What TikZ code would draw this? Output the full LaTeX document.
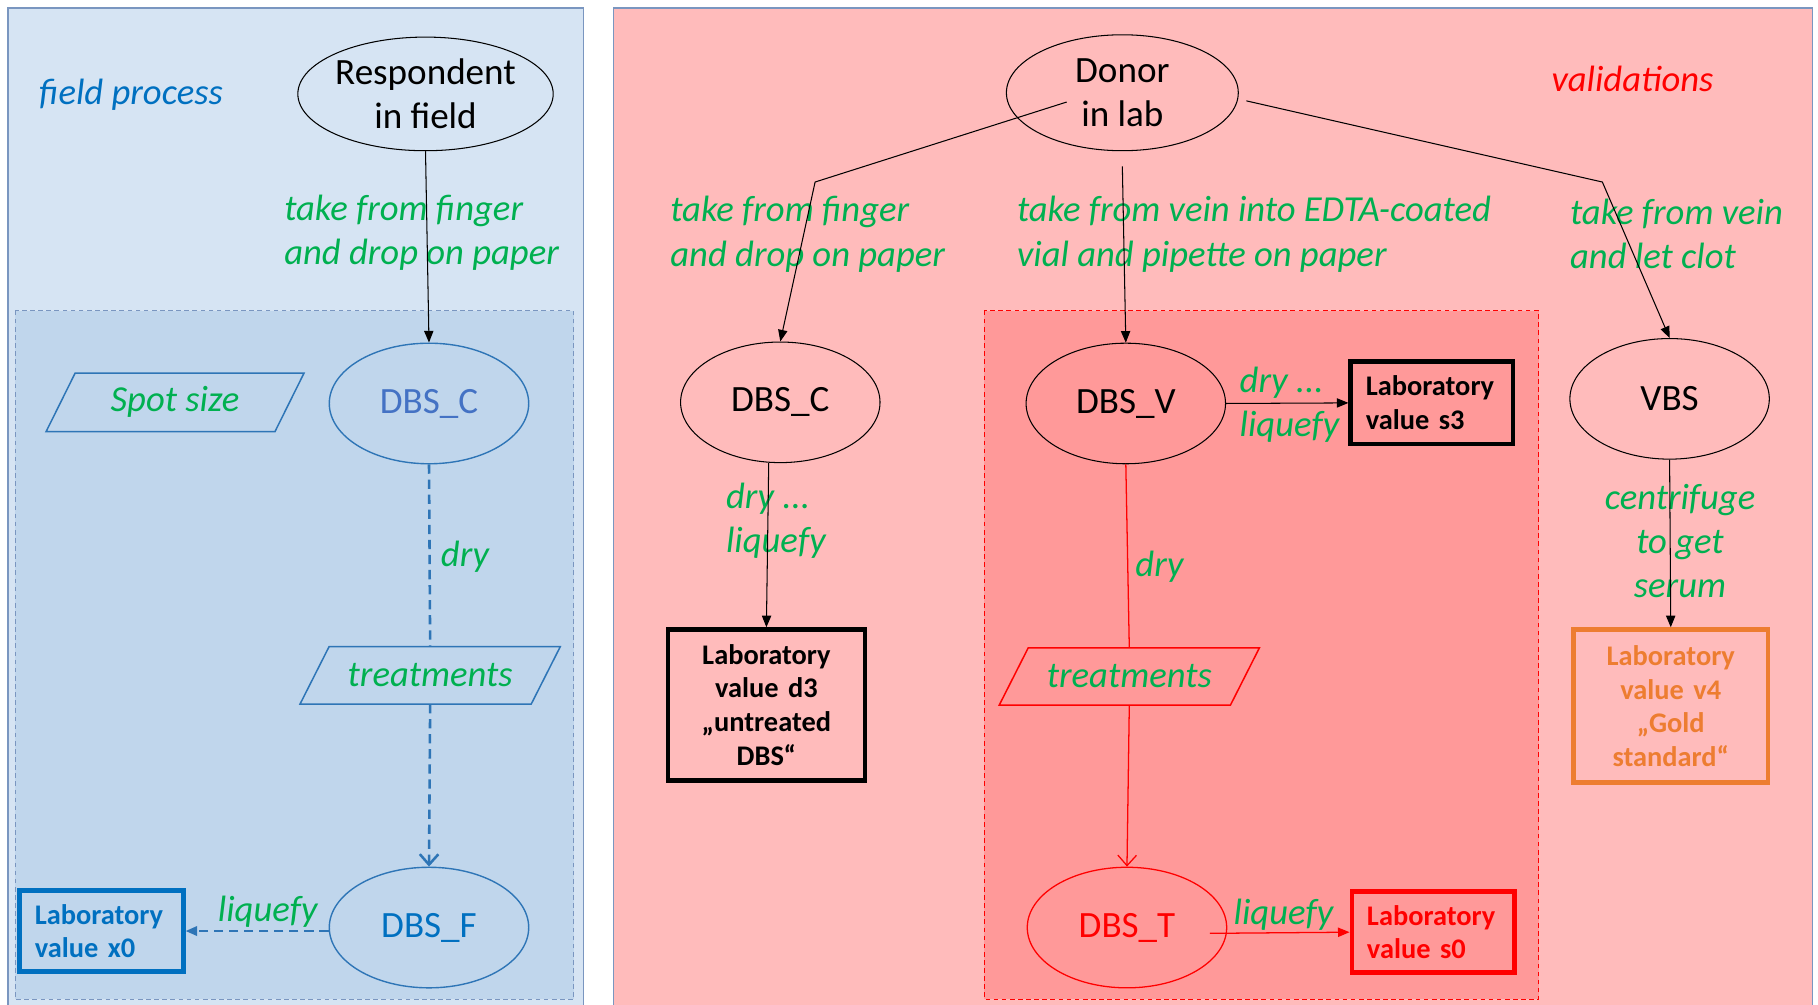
\documentclass[tikz,border=0pt]{standalone}
\usepackage{fontspec}
\setmainfont{Carlito}
\usetikzlibrary{arrows.meta,shapes.geometric}
\definecolor{lpanel}{HTML}{D6E4F3}
\definecolor{linner}{HTML}{C0D6EC}
\definecolor{rpanel}{HTML}{FFBBBB}
\definecolor{rinner}{HTML}{FF9999}
\definecolor{pborder}{HTML}{7A96C0}
\definecolor{lgreen}{HTML}{00B050}
\definecolor{dblue}{HTML}{0070C0}
\definecolor{mblue}{HTML}{2E75B6}
\definecolor{sblue}{HTML}{4472C4}
\definecolor{orng}{HTML}{ED7D31}
\definecolor{rred}{HTML}{FF0000}
\begin{document}
\begin{tikzpicture}[x=1pt,y=-1pt,
  ell/.style={ellipse, draw, line width=0.9pt, minimum width=172pt, minimum height=104pt, inner sep=0pt, align=center, font=\fontsize{32}{38}\selectfont},
  lbl/.style={text=lgreen, inner sep=0pt, font=\fontsize{31.6}{38}\selectfont\itshape},
  labbox/.style={draw, line width=4pt, inner ysep=0pt, font=\fontsize{24.5}{29}\selectfont\bfseries},
  para/.style={minimum height=50pt, inner sep=0pt, text=lgreen, font=\fontsize{31.6}{38}\selectfont\itshape},
  conn/.style={line width=0.9pt},
  tip/.style={-{Triangle[length=10pt,width=8pt]}},
  vtip/.style={-{Straight Barb[length=9pt,width=16pt]}},
  bluedash/.style={draw=mblue, line width=2.2pt, dash pattern=on 8pt off 5pt},
  redline/.style={draw=rred, line width=1.1pt},
  paraline/.style={line width=1.3pt}
]
\useasboundingbox (0,0) rectangle (1568,866);
\fill[white] (0,0) rectangle (1568,866);
% panels
\filldraw[fill=lpanel, draw=pborder, line width=1.2pt] (7,7) rectangle (503,870);
\filldraw[fill=rpanel, draw=pborder, line width=1.2pt] (529,7) rectangle (1563,870);
\filldraw[fill=linner, draw=pborder, line width=0.8pt, dash pattern=on 4pt off 3pt] (13,268) rectangle (495,862);
\filldraw[fill=rinner, draw=rred, line width=0.8pt, dash pattern=on 4pt off 3pt] (849,268) rectangle (1327,862);

% titles
\node[inner sep=0pt, text=dblue, font=\fontsize{31.6}{38}\selectfont\itshape] (fp) at (113,82) {field process};
\node[inner sep=0pt, text=rred, font=\fontsize{31.6}{38}\selectfont\itshape] (val) at (1408,68) {validations};

% left side nodes
\node[ell, minimum width=200pt, minimum height=98pt] (resp) at (367,81) {Respondent\\in field};
\node[ell, draw=mblue, text=sblue, line width=1.2pt] (dbsc1) at (370,348) {DBS\_C};
\node[ell, draw=mblue, text=dblue, line width=1.2pt] (dbsf) at (370,800) {DBS\_F};
\node[para, minimum width=222pt] (spot) at (151,347) {Spot size};
\draw[paraline, draw=mblue] ([xshift=25pt]spot.north west) -- (spot.north east) -- ([xshift=-25pt]spot.south east) -- (spot.south west) -- cycle;
\node[para, minimum width=224pt, minimum height=49pt] (tr1) at (371,582.5) {treatments};
\draw[paraline, draw=mblue] ([xshift=25pt]tr1.north west) -- (tr1.north east) -- ([xshift=-25pt]tr1.south east) -- (tr1.south west) -- cycle;
\node[labbox, draw=dblue, text=dblue, text width=115pt, inner xsep=13pt, minimum height=70pt, align=left] (labx0) at (87.5,803) {Laboratory\\value x0};

% left labels
\node[lbl, anchor=west, align=left] (l1) at (245,201) {take from finger\\and drop on paper};
\node[lbl] (l2) at (401,480) {dry};
\node[lbl] (l3) at (231,786) {liquefy};

% left connectors
\draw[conn, tip] (resp.south) -- (dbsc1.north);
\draw[bluedash] (dbsc1.south) -- (tr1.north);
\draw[bluedash, vtip] (tr1.south) -- (dbsf.north);
\draw[bluedash, tip] ([yshift=-3pt]dbsf.west) -- (labx0.east);

% right side nodes
\node[ell, minimum width=200pt, minimum height=100pt] (donor) at (968,80) {Donor\\in lab};
\node[ell] (dbsc2) at (673,347) {DBS\_C};
\node[ell] (dbsv) at (971,348) {DBS\_V};
\node[ell, draw=rred, text=rred, line width=1.1pt] (dbst) at (972,800) {DBS\_T};
\node[ell] (vbs) at (1440,344) {VBS};
\node[para, minimum width=224pt, minimum height=49pt] (tr2) at (974,583.5) {treatments};
\draw[paraline, draw=rred] ([xshift=25pt]tr2.north west) -- (tr2.north east) -- ([xshift=-25pt]tr2.south east) -- (tr2.south west) -- cycle;
\node[labbox, text width=150pt, inner xsep=10pt, minimum height=130pt, align=center] (labd3) at (661,608) {Laboratory\\value d3\\„untreated\\DBS“};
\node[labbox, text width=114pt, inner xsep=13pt, minimum height=71pt, align=left] (labs3) at (1235,347.5) {Laboratory\\value s3};
\node[labbox, draw=rred, text=rred, text width=114pt, inner xsep=13pt, minimum height=70pt, align=left] (labs0) at (1236,804) {Laboratory\\value s0};
\node[labbox, draw=orng, text=orng, text width=148pt, inner xsep=10pt, minimum height=132pt, align=center] (labv4) at (1441,609) {Laboratory\\value v4\\„Gold\\standard“};

% right labels
\node[lbl, anchor=west, align=left] (r1) at (578,202) {take from finger\\and drop on paper};
\node[lbl, anchor=west, align=left] (r2) at (877,202) {take from vein into EDTA-coated\\vial and pipette on paper};
\node[lbl, anchor=west, align=left] (r3) at (1354,202) {take from vein\\and let clot};
\node[lbl, anchor=west, align=left] (r4) at (626,449) {dry ...\\liquefy};
\node[lbl, anchor=west, align=left] (r5) at (1069,349) {dry ...\\liquefy};
\node[lbl] (r6) at (1000,489) {dry};
\node[lbl] (r7) at (1107,789) {liquefy};
\node[lbl, align=center] (r8) at (1449,467) {centrifuge\\to get\\serum};

% right connectors
\coordinate (dA) at (920,88);
\coordinate (dB) at (703,157);
\coordinate (dC) at (1075,87);
\coordinate (dD) at (1382,157);
\draw[conn, tip] (dA) -- (dB) -- (dbsc2.north);
\draw[conn, tip] ([yshift=-13pt]donor.south) -- (dbsv.north);
\draw[conn, tip] (dC) -- (dD) -- (vbs.north);
\draw[conn, tip] ([xshift=-10pt]dbsc2.south) -- (labd3.north);
\draw[conn, tip] (dbsv.east) -- (labs3.west);
\draw[redline] (dbsv.south) -- (tr2.north);
\draw[redline, vtip] (tr2.south) -- (dbst.north);
\draw[redline, tip] ([xshift=-15pt,yshift=-5pt]dbst.east) -- (labs0.west);
\draw[conn, tip] (vbs.south) -- (labv4.north);
\end{tikzpicture}
\end{document}
